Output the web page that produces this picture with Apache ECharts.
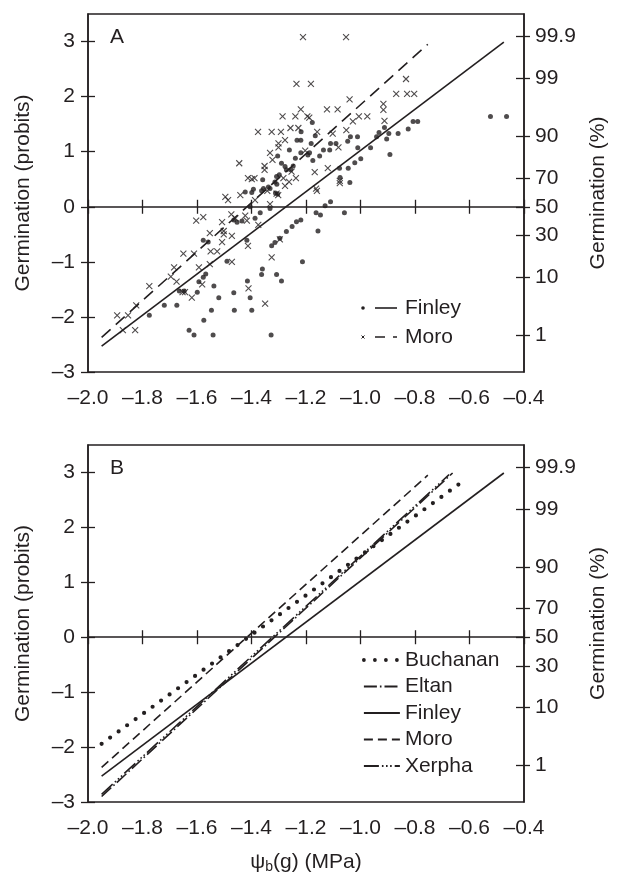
<!DOCTYPE html>
<html>
<head>
<meta charset="utf-8">
<script src="https://cdn.jsdelivr.net/npm/echarts@6/dist/echarts.min.js"></script>
<style>html,body{margin:0;padding:0;background:#fff}#c{width:617px;height:875px}</style>
</head>
<body>
<div id="c"></div>
<script>
// ---------- data ----------
const xTicks = [-2.0, -1.8, -1.6, -1.4, -1.2, -1.0, -0.8, -0.6, -0.4];
const probitTicks = [-3, -2, -1, 0, 1, 2, 3];
const pctProbits = [-2.3263, -1.2816, -0.5244, 0, 0.5244, 1.2816, 2.3263, 3.0902];
const pctLabels = ['1', '10', '30', '50', '70', '90', '99', '99.9'];

// Panel A observations
const finleyObs = [[-1.177,1.53],[-1.218,1.36],[-1.233,1.21],[-1.219,1.21],[-1.166,1.29],[-1.261,1.03],[-1.219,0.98],[-1.181,1.15],[-1.110,1.15],[-1.090,1.15],[-1.037,1.27],[-1.011,1.27],[-1.047,1.19],[-1.136,1.03],[-1.113,1.03],[-1.150,0.92],[-1.193,0.94],[-1.187,0.98],[-1.239,0.88],[-1.304,0.92],[-1.175,0.84],[-1.010,1.07],[-0.963,1.07],[-1.290,0.79],[-1.277,0.73],[-1.272,0.67],[-1.247,0.74],[-1.256,0.67],[-1.298,0.58],[-1.308,0.55],[-1.314,0.45],[-1.307,0.41],[-1.359,0.49],[-1.356,0.33],[-1.363,0.29],[-1.393,0.32],[-1.399,0.26],[-1.338,0.36],[-1.332,0.33],[-1.423,0.27],[-1.312,0.25],[-1.304,0.23],[-1.077,0.70],[-1.045,0.70],[-1.021,0.80],[-0.999,0.87],[-1.075,0.53],[-1.039,0.44],[-1.405,0.00],[-1.368,-0.11],[-1.332,-0.03],[-1.387,-0.21],[-1.465,-0.24],[-1.453,-0.28],[-1.435,-0.26],[-1.130,0.02],[-1.110,0.09],[-1.163,-0.11],[-1.147,-0.15],[-1.059,-0.11],[-1.235,-0.27],[-1.219,-0.24],[-1.417,-0.61],[-1.577,-0.61],[-1.559,-0.64],[-1.490,-0.99],[-1.593,-1.36],[-1.577,-1.28],[-1.568,-1.22],[-1.599,-1.55],[-1.538,-1.44],[-1.665,-1.53],[-1.647,-1.53],[-1.720,-1.79],[-1.674,-1.79],[-1.775,-1.97],[-1.629,-2.24],[-1.611,-2.33],[-1.575,-2.06],[-1.547,-1.88],[-1.541,-2.33],[-1.520,-1.65],[-1.465,-1.56],[-1.463,-1.88],[-1.415,-1.35],[-1.405,-1.65],[-1.399,-1.88],[-1.363,-1.23],[-1.360,-1.13],[-1.328,-2.33],[-1.308,-1.23],[-1.290,-1.35],[-1.326,-0.71],[-1.314,-0.65],[-1.296,-0.57],[-1.272,-0.45],[-1.251,-0.36],[-1.213,-1.00],[-1.156,-0.44],[-0.523,1.64],[-0.464,1.64],[-0.807,1.55],[-0.790,1.55],[-0.825,1.41],[-0.862,1.33],[-0.912,1.44],[-0.932,1.35],[-0.896,1.33],[-0.941,1.27],[-0.904,1.23],[-0.892,0.95]];
const moroObs = [[-1.211,3.08],[-1.053,3.08],[-1.235,2.23],[-1.182,2.23],[-1.040,1.95],[-1.219,1.77],[-1.123,1.77],[-1.084,1.77],[-1.286,1.64],[-1.239,1.64],[-1.195,1.64],[-1.188,1.62],[-1.028,1.55],[-1.006,1.64],[-0.975,1.64],[-1.376,1.36],[-1.326,1.36],[-1.292,1.36],[-1.257,1.43],[-1.228,1.43],[-1.159,1.36],[-1.052,1.39],[-1.102,1.33],[-1.301,1.15],[-1.301,1.08],[-1.277,1.21],[-1.332,0.98],[-1.323,0.85],[-1.203,1.02],[-1.081,1.08],[-1.445,0.79],[-1.352,0.74],[-1.352,0.67],[-1.253,0.64],[-1.168,0.63],[-1.120,0.70],[-1.413,0.52],[-1.399,0.50],[-1.389,0.52],[-1.283,0.52],[-1.262,0.45],[-1.237,0.52],[-1.277,0.38],[-1.308,0.24],[-1.302,0.21],[-1.342,0.29],[-1.076,0.47],[-1.076,0.43],[-1.163,0.33],[-1.160,0.29],[-1.496,0.18],[-1.486,0.12],[-1.441,0.21],[-1.387,0.12],[-1.332,0.05],[-1.474,-0.14],[-1.423,-0.16],[-1.508,-0.28],[-1.375,-0.33],[-1.603,-0.25],[-1.577,-0.19],[-1.459,-0.21],[-1.417,-0.25],[-1.553,-0.48],[-1.502,-0.44],[-1.502,-0.50],[-1.508,-0.64],[-1.472,-0.53],[-1.650,-0.85],[-1.611,-0.85],[-1.550,-0.81],[-1.526,-0.81],[-1.413,-0.71],[-1.684,-1.10],[-1.593,-1.10],[-1.553,-1.04],[-1.472,-1.00],[-1.696,-1.27],[-1.675,-1.36],[-1.581,-1.41],[-1.775,-1.44],[-1.653,-1.55],[-1.644,-1.55],[-1.619,-1.65],[-1.411,-1.48],[-1.326,-0.92],[-1.823,-1.79],[-1.893,-1.97],[-1.853,-1.97],[-1.872,-2.24],[-1.827,-2.24],[-1.350,-1.76],[-1.296,-0.59],[-0.833,2.32],[-0.869,2.05],[-0.829,2.05],[-0.803,2.05],[-0.916,1.87],[-0.916,1.76],[-0.912,1.56]];

// Fitted probit lines (endpoints)
const finleyFit = [[-1.95, -2.53], [-0.474, 2.99]];
const moroFit = [[-1.95, -2.37], [-0.753, 2.95]];
const buchananFit = [[-1.95, -1.94], [-0.613, 2.88]];
const eltanFit = [[-1.95, -2.90], [-0.662, 2.99]];
const xerphaFit = [[-1.95, -2.86], [-0.675, 2.96]];

// ---------- style ----------
const INK = '#231f20';
const FONT = '"Liberation Sans", Arial, Helvetica, sans-serif';
const FS = 21;
const LW = 1.6;

const fmtX = v => (v < -1e-9 ? '\u2013' : '') + Math.abs(v).toFixed(1);
const fmtY = v => (v < -1e-9 ? '\u2013' : '') + Math.abs(Math.round(v));
const fmtPct = v => {
  let bi = 0, bd = 1e9;
  pctProbits.forEach((p, i) => { const d = Math.abs(p - v); if (d < bd) { bd = d; bi = i; } });
  return pctLabels[bi];
};

const labelStyle = { color: INK, fontFamily: FONT, fontSize: FS };

function xAxesFor(g, withName) {
  const base = { type: 'value', gridIndex: g, min: -2.0, max: -0.4, position: 'bottom', splitLine: { show: false } };
  return [
    Object.assign({}, base, {
      axisLine: { show: true, lineStyle: { color: INK, width: 1.5 } },
      axisTick: { show: true, inside: false, length: 7, lineStyle: { color: INK, width: 1.3 }, customValues: xTicks },
      axisLabel: Object.assign({ show: true, margin: 16, formatter: fmtX, customValues: xTicks }, labelStyle),
      name: withName ? '{n|\u03c8}{s|b}{n|(g) (MPa)}' : '',
      nameLocation: 'middle', nameGap: 48,
      nameTextStyle: { rich: { n: { fontSize: FS, fontFamily: FONT, color: INK, lineHeight: 24 },
                               s: { fontSize: 14, fontFamily: FONT, color: INK, lineHeight: 24, padding: [10, 0, 0, 0] } } }
    }),
    Object.assign({}, base, {
      axisLine: { show: false },
      axisTick: { show: true, inside: true, length: 7, lineStyle: { color: INK, width: 1.3 }, customValues: xTicks },
      axisLabel: { show: false }
    })
  ];
}

function yAxesFor(g) {
  const base = { type: 'value', gridIndex: g, min: -3, max: 3.5, splitLine: { show: false } };
  return [
    Object.assign({}, base, {
      position: 'left',
      axisLine: { show: true, lineStyle: { color: INK, width: 1.5 } },
      axisTick: { show: true, inside: false, length: 7, lineStyle: { color: INK, width: 1.3 }, customValues: probitTicks },
      axisLabel: Object.assign({ show: true, margin: 13, formatter: fmtY, customValues: probitTicks }, labelStyle),
      name: 'Germination (probits)', nameLocation: 'middle', nameRotate: 90, nameGap: 54,
      nameTextStyle: labelStyle
    }),
    Object.assign({}, base, {
      position: 'left',
      axisLine: { show: false },
      axisTick: { show: true, inside: true, length: 7, lineStyle: { color: INK, width: 1.3 }, customValues: probitTicks },
      axisLabel: { show: false }
    }),
    Object.assign({}, base, {
      position: 'right',
      axisLine: { show: true, lineStyle: { color: INK, width: 1.5 } },
      axisTick: { show: true, inside: false, length: 6, lineStyle: { color: INK, width: 1.3 }, customValues: pctProbits },
      axisLabel: Object.assign({ show: true, margin: 11, formatter: fmtPct, customValues: pctProbits }, labelStyle),
      name: 'Germination (%)', nameLocation: 'middle', nameRotate: 90, nameGap: 64,
      nameTextStyle: labelStyle
    }),
    Object.assign({}, base, {
      position: 'right',
      axisLine: { show: false },
      axisTick: { show: true, inside: true, length: 8, lineStyle: { color: INK, width: 1.3 }, customValues: pctProbits },
      axisLabel: { show: false }
    })
  ];
}

function fitLine(name, data, xi, yi, dash, extra) {
  return Object.assign({
    name, type: 'line', data, xAxisIndex: xi, yAxisIndex: yi,
    symbol: 'none', silent: true, animation: false, z: 3, color: INK,
    itemStyle: { color: INK },
    lineStyle: { color: INK, width: LW, type: dash }
  }, extra || {});
}

const chart = echarts.init(document.getElementById('c'), null, { renderer: 'canvas' });
chart.setOption({
  animation: false,
  backgroundColor: '#fff',
  grid: [
    { left: 88, top: 14, width: 440, height: 358, show: true, borderColor: INK, borderWidth: 1.5, containLabel: false },
    { left: 88, top: 445, width: 440, height: 358, show: true, borderColor: INK, borderWidth: 1.5, containLabel: false }
  ],
  xAxis: [].concat(xAxesFor(0, false), xAxesFor(1, true)),
  yAxis: [].concat(yAxesFor(0), yAxesFor(1)),
  legend: {
    data: [
      { name: 'Buchanan', lineStyle: { color: INK, width: 3.8, type: [0, 11], cap: 'round' } },
      'Eltan', 'Finley', 'Moro', 'Xerpha'
    ],
    orient: 'vertical', left: 362, top: 649, padding: 0,
    itemWidth: 36, itemHeight: 14, itemGap: 4.5,
    selectedMode: false,
    itemStyle: { opacity: 0, borderWidth: 0 },
    textStyle: { color: INK, fontFamily: FONT, fontSize: FS, lineHeight: 22 }
  },
  series: [
    { name: 'Finley obs', type: 'scatter', data: finleyObs, xAxisIndex: 0, yAxisIndex: 0,
      symbol: 'circle', symbolSize: 5, itemStyle: { color: INK }, silent: true, z: 4 },
    { name: 'Moro obs', type: 'scatter', data: moroObs, xAxisIndex: 0, yAxisIndex: 0,
      symbol: 'path://M0,0L10,10M10,0L0,10', symbolSize: 6,
      itemStyle: { color: 'none', borderColor: INK, borderWidth: 1.1 }, silent: true, z: 4 },
    fitLine('Finley fit A', finleyFit, 0, 0, 'solid'),
    fitLine('Moro fit A', moroFit, 0, 0, [12, 7]),
    // Panel B
    fitLine('Buchanan', buchananFit, 2, 4, [0, 10.5], { lineStyle: { color: INK, width: 4.2, type: [0, 10.5], cap: 'round' } }),
    fitLine('Eltan', eltanFit, 2, 4, [13, 3, 1.6, 3]),
    fitLine('Finley', finleyFit, 2, 4, 'solid'),
    fitLine('Moro', moroFit, 2, 4, [9, 5]),
    fitLine('Xerpha', xerphaFit, 2, 4, [15, 3, 1.6, 2.5, 1.6, 2.5, 1.6, 3])
  ],
  graphic: [
    { type: 'text', left: 110, top: 27, style: { text: 'A', fill: INK, font: FS + 'px ' + FONT } },
    { type: 'text', left: 110, top: 458, style: { text: 'B', fill: INK, font: FS + 'px ' + FONT } },
    // panel A legend
    { type: 'circle', shape: { cx: 363, cy: 308, r: 1.8 }, style: { fill: INK } },
    { type: 'line', shape: { x1: 375, y1: 308, x2: 397, y2: 308 }, style: { stroke: INK, lineWidth: LW } },
    { type: 'text', x: 405, y: 308, style: { text: 'Finley', fill: INK, font: FS + 'px ' + FONT, verticalAlign: 'middle' } },
    { type: 'polyline', shape: { points: [[361.5, 335.5], [364.5, 338.5]] }, style: { stroke: INK, lineWidth: 1 } },
    { type: 'polyline', shape: { points: [[364.5, 335.5], [361.5, 338.5]] }, style: { stroke: INK, lineWidth: 1 } },
    { type: 'line', shape: { x1: 375, y1: 337, x2: 397, y2: 337 }, style: { stroke: INK, lineWidth: LW, lineDash: [10, 8] } },
    { type: 'text', x: 405, y: 337, style: { text: 'Moro', fill: INK, font: FS + 'px ' + FONT, verticalAlign: 'middle' } }
  ]
});
</script>
</body>
</html>
